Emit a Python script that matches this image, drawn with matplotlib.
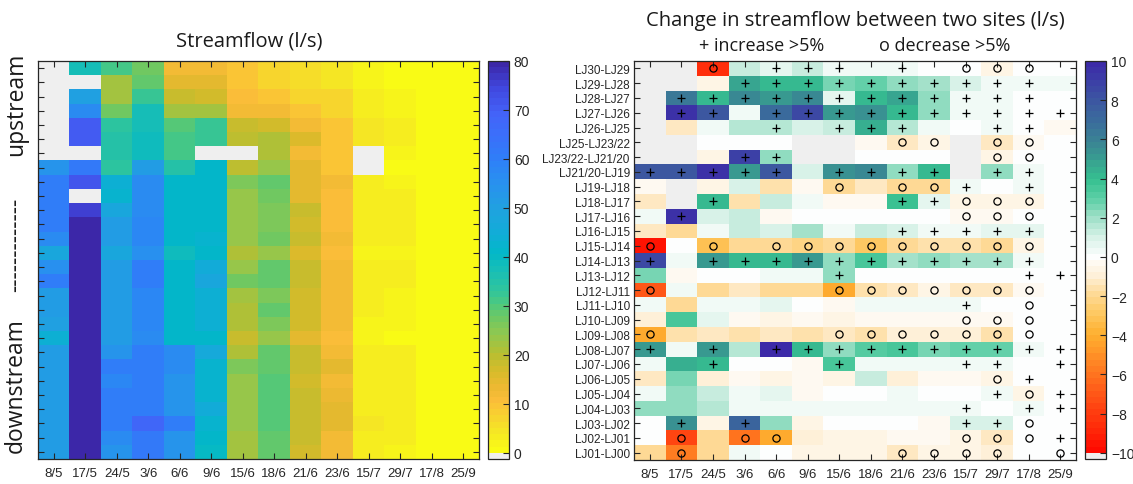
import numpy as np
import matplotlib
matplotlib.use("Agg")
import matplotlib.pyplot as plt
from matplotlib.colors import LinearSegmentedColormap, ListedColormap

plt.rcParams['font.family'] = ['Liberation Sans', 'DejaVu Sans']

nan = np.nan

# ---------------------------------------------------------------- data
dates = ['8/5', '17/5', '24/5', '3/6', '6/6', '9/6', '15/6', '18/6',
         '21/6', '23/6', '15/7', '29/7', '17/8', '25/9']

# streamflow (l/s) per site, upstream (top) to downstream (bottom)
flow = np.array([
    [nan, 37, 31, 27, 12, 12, 10, 7, 6, 5, 2, 1, 0.8, 0.8],
    [nan, nan, 22, 28, 14, 14, 10, 7, 6, 5, 2, 1, 0.8, 0.8],
    [nan, 50, 22, 32, 18, 17, 11, 10, 7, 7, 3, 2.5, 0.8, 0.8],
    [nan, 57, 27, 37, 22, 22, 12, 12, 10, 7.5, 3, 2.5, 0.8, 0.8],
    [nan, 70, 34, 37, 30, 32, 18, 17, 12, 10, 4, 3, 0.8, 0.8],
    [nan, 70, 35, 39, 31, 33, 20, 21, 16, 10, 4, 3, 0.8, 0.8],
    [nan, nan, 35, 39, 31, nan, nan, 21, 12, 10, nan, 1.5, 0.8, 0.8],
    [54, 62, 34, 51, 35, 41, 20, 23, 14, 10, nan, 1, 0.8, 0.8],
    [60, 72, 44, 57, 41, 41, 26, 29, 15, 12, 3, 2.5, 0.8, 0.8],
    [60, nan, 42, 57, 41, 41, 24, 27, 14, 11, 3.5, 3, 0.8, 0.8],
    [60, 75, 48, 56, 41, 41, 24, 26, 18, 11, 3, 3, 0.8, 0.8],
    [60, 79, 51, 58, 41, 41, 24, 26, 17, 11, 3, 3, 0.8, 0.8],
    [57, 79, 51, 58, 41, 43, 24, 27, 18, 12, 3, 3, 0.8, 0.8],
    [47, 79, 47, 55, 39, 41, 21, 24, 16, 11, 2, 2, 0.8, 0.8],
    [55, 79, 51, 60, 41, 45, 24, 29, 18, 12, 3, 3, 0.8, 0.8],
    [60, 79, 51, 60, 41, 47, 27, 29, 18, 12, 3.5, 3.5, 0.8, 0.8],
    [51, 79, 51, 58, 41, 44, 22, 26, 17, 12, 3, 2, 0.8, 0.8],
    [51, 79, 51, 58, 41, 44, 21, 28, 17, 12, 3, 2, 0.8, 0.8],
    [50, 79, 51, 58, 41, 44, 21, 26, 17, 12, 1.5, 2, 0.8, 0.8],
    [44, 79, 51, 56, 41, 41, 18, 24, 15, 11, 1.5, 1, 0.8, 0.8],
    [51, 79, 54, 60, 56, 46, 21, 28, 18, 12, 3.5, 3, 0.8, 0.8],
    [51, 79, 60, 60, 56, 42, 26, 29, 18, 14, 3.5, 3, 0.8, 0.8],
    [51, 79, 58, 60, 54, 42, 24, 30, 17, 12, 3.5, 3, 0.8, 0.8],
    [51, 79, 60, 60, 54, 42, 24, 30, 18, 13, 3.5, 3, 0.8, 0.8],
    [51, 79, 60, 60, 54, 45, 24, 30, 18, 14, 3.5, 3, 0.8, 0.8],
    [51, 79, 60, 68, 60, 42, 24, 30, 18, 14, 4, 3.5, 0.8, 0.8],
    [51, 79, 56, 62, 54, 41, 22, 29, 18, 12, 3, 3, 0.8, 0.8],
    [51, 79, 54, 62, 54, 40, 22, 28, 17, 12, 3, 2.5, 0.8, 0.8],
])

pairs = ['LJ30-LJ29', 'LJ29-LJ28', 'LJ28-LJ27', 'LJ27-LJ26', 'LJ26-LJ25',
         'LJ25-LJ23/22', 'LJ23/22-LJ21/20', 'LJ21/20-LJ19', 'LJ19-LJ18',
         'LJ18-LJ17', 'LJ17-LJ16', 'LJ16-LJ15', 'LJ15-LJ14', 'LJ14-LJ13',
         'LJ13-LJ12', 'LJ12-LJ11', 'LJ11-LJ10', 'LJ10-LJ09', 'LJ09-LJ08',
         'LJ08-LJ07', 'LJ07-LJ06', 'LJ06-LJ05', 'LJ05-LJ04', 'LJ04-LJ03',
         'LJ03-LJ02', 'LJ02-LJ01', 'LJ01-LJ00']

# change in streamflow between consecutive sites (l/s)
change = np.array([
    [nan, nan, -8.5, 1.2, 0.5, 1.2, 0.3, 0.3, 0.3, 0, -0.1, -0.5, -0.1, 0],
    [nan, nan, -0.6, 4.8, 4, 4, 2.5, 3, 2.2, 2, 0.8, 0.4, 0.3, 0.2],
    [nan, 6.5, 4, 5.8, 5, 5.8, 0.6, 4, 4.8, 2.2, 0.4, 0.4, 0.1, 0],
    [nan, 9.5, 8, 0.2, 7, 8.5, 5.2, 5.3, 4, 2.2, 0.4, 0.4, 0.1, 0.1],
    [nan, -1.2, 0.4, 1.5, 1.5, 0.8, 1.4, 4.3, 1.5, 0.2, 0, 0.3, 0.1, -0.3],
    [nan, nan, 0, 0, 0.1, nan, nan, -0.3, -1.4, -0.6, nan, -1.3, -0.4, 0],
    [nan, nan, -0.6, 8.8, 2.3, nan, nan, 0.15, 0.15, 0.15, nan, -0.6, -0.1, 0],
    [8, 8, 9.5, 5, 8, 0.8, 5.5, 5.8, 2.3, 4, nan, 2.2, 0.2, 0],
    [-0.3, nan, -0.6, 0.8, -1.6, -0.3, -1.8, -1.3, -1.8, -1.8, 0.3, 0, 0.2, 0],
    [-1.2, nan, 4, -1.6, 1.4, 0.2, -0.3, -0.3, 3.8, 0.5, -0.6, -0.6, -0.6, 0],
    [0.2, 9.5, 0.8, 1.4, -0.2, 0, 0, 0, 0, 0, -0.2, -0.2, -0.1, 0],
    [-1.4, -2, 0.3, 1.4, 0.8, 1.9, 0.2, 1.2, 0.8, 0.3, 0.3, 0.6, 0.5, 0],
    [-9.6, 0, -3.2, -2, -2, -2.2, -2, -2.8, -2, -1.6, -1.6, -2, -0.6, 0],
    [8.5, 0.4, 5, 4, 4, 5, 2.3, 3.5, 2, 2.3, 2, 2, 0.4, 0],
    [2.5, -0.3, 0, 0, 0.2, 0.2, 2.3, 0, 0.1, 0, 0, 0, 0.1, 0.1],
    [-7, 0.2, -2, -1.2, -2, -2, -4, -1.6, -1.2, -0.7, -1.2, -1.2, -0.3, 0],
    [0.2, -2, 0.3, 0.3, 0.6, 0, -0.2, 0.3, 0.2, 0.2, 0.2, 0, -0.1, 0],
    [-1.1, 3.5, 0.6, -0.2, -0.5, -0.2, -0.5, -0.2, -0.4, -0.2, -0.2, -0.3, -0.1, 0],
    [-4, -1.6, -1.2, -1.6, -1.2, -1.6, -1.4, -1.6, -1.1, -1.1, -1.1, -1.6, -0.1, 0],
    [5, 0.4, 5, 1.5, 9.7, 4, 2.3, 3.2, 3.5, 2.5, 2.7, 2.7, 0.4, 0.1],
    [0.4, 4.5, 4, 0, 0, -0.3, 3.5, 0.4, 0.2, 0.3, 0.2, 0.2, 0, 0.1],
    [-1.2, 2.5, -1.1, -0.2, -0.6, -0.2, -0.6, 1.2, -1.1, -0.3, -0.3, -0.6, 0.1, 0],
    [0.2, 2.3, 1.2, 0.2, 0.6, -0.2, 0, 0, 0.3, 0, 0, 0.2, -0.6, 0.1],
    [2.3, 2.3, 1.5, 0.3, 0.2, 0.3, 0.2, 0.3, 0.3, 0.3, 0.3, 0, 0.2, 0.1],
    [0, 5.5, -0.5, 7.3, 2.3, -0.5, 0, 0, 0, -0.2, 0.8, 0.8, -0.1, 0],
    [0, -7.5, -2, -6, -4, -1.1, -0.7, -0.6, -0.3, -0.3, -0.7, -1.2, -0.1, 0.1],
    [-1.8, -5.8, -2, 0.4, 0, -0.5, -0.5, -0.6, -1.2, -0.7, -0.7, -1.1, 0, -0.1],
])

# '+' increase >5 %, 'o' decrease >5 %, '.' neither
flags = [
    "..o.+++.+.ooo.",
    "...++++++++++.",
    ".++++++++++++.",
    ".++.++++++++++",
    "....+.+++..++.",
    "........oo.oo.",
    "...++......oo.",
    "+++++.++++.++.",
    "......o.oo+.+.",
    "..+.....++ooo.",
    ".+........ooo.",
    "........+++++.",
    "o.o.ooooooooo.",
    "+.+++++++++++.",
    "......+.....++",
    "o.....ooooooo.",
    "..........+.o.",
    "..........ooo.",
    "o.....ooooooo.",
    "+.+.++++++++++",
    "..+...+...++.+",
    "...........o+.",
    "...........+o+",
    "..........+.++",
    ".+.+......++o.",
    ".o.oo.....ooo+",
    ".o......oooo.o",
]

# ---------------------------------------------------------------- colour maps
GRAY = '#efefef'
INK = '#262626'

flow_anchor_vals = [0, 4, 7, 10, 13, 16, 20, 24, 27, 30, 33, 37, 41, 45,
                    50, 55, 60, 65, 70, 75, 80]
flow_anchor_cols = ['#f9fb15', '#f5e526', '#f8d030', '#fcbe3a', '#ecb932',
                    '#d8bb2a', '#b6bf32', '#90c850', '#70c862', '#50c97c',
                    '#30c59c', '#18beb6', '#02b8c8', '#12acd8', '#20a2e0',
                    '#2892ee', '#2e80f8', '#3a70fa', '#4462f8', '#4048e0',
                    '#3c27a8']
flow_base = LinearSegmentedColormap.from_list(
    'flow', [(v / 80, c) for v, c in zip(flow_anchor_vals, flow_anchor_cols)])
flow_cmap = ListedColormap([GRAY] + list(flow_base(np.linspace(0, 1, 63))))
flow_cmap.set_bad(GRAY)
flow_vmin, flow_vmax = -80 / 63, 80

chg_anchor_vals = [-10, -9, -8, -7, -6, -5, -4, -3, -2, -1, 0,
                   1, 2, 3, 4, 5, 6, 7, 8, 9, 10]
chg_anchor_cols = ['#ff0a00', '#ff2808', '#ff4010', '#ff5a18', '#ff7820',
                   '#ff9428', '#feb030', '#fec860', '#fed890', '#fef0d8',
                   '#ffffff', '#d8f2e8', '#a0e0c8', '#60d0a8', '#36c090',
                   '#38a090', '#3a8494', '#3a6c9c', '#3c5aa0', '#3c42a6',
                   '#3c2aa8']
chg_base = LinearSegmentedColormap.from_list(
    'chg', [((v + 10) / 20, c) for v, c in zip(chg_anchor_vals, chg_anchor_cols)])
chg_cmap = ListedColormap([GRAY] + list(chg_base(np.linspace(0, 1, 63))))
chg_cmap.set_bad(GRAY)
chg_vmin, chg_vmax = -10 - 20 / 63, 10

# ---------------------------------------------------------------- figure
W, H = 1133, 485
fig = plt.figure(figsize=(W / 100, H / 100), dpi=100)


def box(x0, y0, x1, y1):
    return [x0 / W, 1 - y1 / H, (x1 - x0) / W, (y1 - y0) / H]


def style(ax):
    for s in ax.spines.values():
        s.set_color(INK)
        s.set_linewidth(0.9)
    ax.tick_params(direction='in', length=4, width=0.8, colors=INK,
                   top=True, right=True, labeltop=False, labelright=False)


ncol = len(dates)

# left: streamflow
axL = fig.add_axes(box(38, 62, 479, 460))
imL = axL.imshow(flow, cmap=flow_cmap, vmin=flow_vmin, vmax=flow_vmax,
                 aspect='auto', interpolation='nearest')
style(axL)
axL.set_xticks(range(ncol))
axL.set_xticklabels(dates, fontsize=9.5)
axL.set_yticks(range(flow.shape[0]))
axL.set_yticklabels([])
axL.tick_params(axis='x', pad=6)

caxL = fig.add_axes(box(488, 62, 509, 460))
cbL = fig.colorbar(imL, cax=caxL)
cbL.set_ticks(range(0, 81, 10))
cbL.outline.set_edgecolor(INK)
cbL.outline.set_linewidth(0.9)
caxL.tick_params(direction='in', length=4, width=0.8, colors=INK,
                 labelsize=10)

# right: change between sites
axR = fig.add_axes(box(634, 62, 1076, 461))
imR = axR.imshow(change, cmap=chg_cmap, vmin=chg_vmin, vmax=chg_vmax,
                 aspect='auto', interpolation='nearest')
style(axR)
axR.set_xticks(range(ncol))
axR.set_xticklabels(dates, fontsize=9.5)
axR.set_yticks(range(len(pairs)))
axR.set_yticklabels(pairs, fontsize=8.5)
axR.tick_params(axis='x', pad=6)
axR.tick_params(axis='y', pad=3)

for r, row in enumerate(flags):
    for c, f in enumerate(row):
        if f == '+':
            axR.plot(c, r, marker='+', ms=5.5, mew=0.9, color='black')
        elif f == 'o':
            axR.plot(c, r, marker='o', ms=5.2, mew=0.9, mfc='none',
                     mec='black')

caxR = fig.add_axes(box(1085, 62, 1106, 460))
cbR = fig.colorbar(imR, cax=caxR)
cbR.set_ticks(range(-10, 11, 2))
cbR.outline.set_edgecolor(INK)
cbR.outline.set_linewidth(0.9)
caxR.tick_params(direction='in', length=4, width=0.8, colors=INK,
                 labelsize=10)

# titles and side label
tfont = ['Open Sans', 'DejaVu Sans']
fig.text(249 / W, 1 - 41 / H, 'Streamflow (l/s)', ha='center', va='center',
         fontsize=14.5, family=tfont, color='#1a1a1a')
fig.text(855 / W, 1 - 21 / H, 'Change in streamflow between two sites (l/s)',
         ha='center', va='center', fontsize=14.5, family=tfont,
         color='#1a1a1a')
fig.text(762 / W, 1 - 46 / H, '+ increase >5%', ha='center', va='center',
         fontsize=13, family=tfont, color='#1a1a1a')
fig.text(945 / W, 1 - 46 / H, 'o decrease >5%', ha='center', va='center',
         fontsize=13, family=tfont, color='#1a1a1a')

for txt, yc in [('upstream', 104), ('-------------', 245),
                ('downstream', 386)]:
    fig.text(16 / W, 1 - yc / H, txt, rotation=90, ha='center', va='center',
             fontsize=16.5, family=tfont, color='#1a1a1a')

fig.savefig('out.png', dpi=100)
